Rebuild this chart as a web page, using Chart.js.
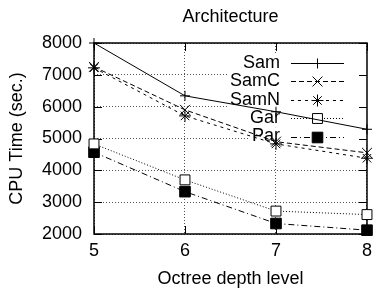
<!DOCTYPE html>
<html><head><meta charset="utf-8">
<script src="https://cdn.jsdelivr.net/npm/chart.js@4/dist/chart.umd.min.js"></script>
<style>html,body{margin:0;padding:0;background:#fff;} canvas{display:block;}</style>
</head><body>
<canvas id="c" width="378" height="293"></canvas>
<script>
const depthLevels = [5, 6, 7, 8];
const seriesNames = ['Sam', 'SamC', 'SamN', 'Gar', 'Par'];
const samTimes  = [8000, 6340, 5840, 5290];
const samCTimes = [7250, 5900, 4900, 4550];
const samNTimes = [7220, 5710, 4830, 4380];
const garTimes  = [4830, 3700, 2720, 2610];
const parTimes  = [4570, 3330, 2330, 2120];
const yTickValues = [2000, 3000, 4000, 5000, 6000, 7000, 8000];
const chartTitle = 'Architecture';
const xTitle = 'Octree depth level';
const yTitle = 'CPU Time (sec.)';

const FONT = '"Liberation Sans", Arial, Helvetica, sans-serif';
const seriesValues = [samTimes, samCTimes, samNTimes, garTimes, parTimes];
const styles = [
  {dash: [], point: 'cross', r: 5, fill: '#000'},
  {dash: [5, 3], point: 'crossRot', r: 7, fill: '#000'},
  {dash: [3, 4], point: 'star', r: 6, fill: '#000'},
  {dash: [1, 2], point: 'rect', r: 7, fill: '#fff'},
  {dash: [6, 3, 1, 3], point: 'rect', r: 7.5, fill: '#000'}
];

const datasets = seriesNames.map((name, i) => ({
  label: name,
  data: depthLevels.map((d, j) => ({x: d, y: seriesValues[i][j]})),
  borderColor: '#000',
  borderWidth: 1,
  borderDash: styles[i].dash,
  pointStyle: styles[i].point,
  pointRadius: styles[i].r,
  pointBorderColor: '#000',
  pointBorderWidth: 1,
  pointBackgroundColor: styles[i].fill,
  fill: false,
  tension: 0,
  clip: false
}));

function line(ctx, x0, y0, x1, y1) { ctx.beginPath(); ctx.moveTo(x0, y0); ctx.lineTo(x1, y1); ctx.stroke(); }

const framePlugin = {
  id: 'frame',
  beforeDatasetsDraw(chart) {
    const ctx = chart.ctx, a = chart.chartArea, x = chart.scales.x, y = chart.scales.y;
    ctx.save();
    // key
    ctx.font = '18px ' + FONT;
    ctx.textAlign = 'right';
    ctx.textBaseline = 'middle';
    const textRight = a.right - 87, s0 = a.right - 76, s1 = a.right - 23, sm = (s0 + s1) / 2;
    const rowY = i => a.top + 19.7 + i * 18.45;
    chart.data.datasets.forEach((ds, i) => {
      const w = ctx.measureText(ds.label).width;
      const lx = textRight - w - 2;
      ctx.fillStyle = '#fff';
      ctx.fillRect(lx, rowY(i) - 9.2, a.right - lx, 18.4);
    });
    chart.data.datasets.forEach((ds, i) => {
      const cy = rowY(i);
      ctx.fillStyle = '#000';
      ctx.fillText(ds.label, textRight, cy);
      ctx.strokeStyle = '#000';
      ctx.lineWidth = 1;
      ctx.setLineDash(ds.borderDash || []);
      line(ctx, s0, Math.round(cy) + 0.5, s1, Math.round(cy) + 0.5);
      ctx.setLineDash([]);
      ctx.fillStyle = ds.pointBackgroundColor;
      ctx.strokeStyle = '#000';
      Chart.helpers.drawPoint(ctx, {pointStyle: ds.pointStyle, radius: ds.pointRadius, borderWidth: 1, rotation: 0}, sm, Math.round(cy) + 0.5);
    });
    // ticks (inward, mirrored)
    ctx.strokeStyle = '#000';
    ctx.lineWidth = 1;
    yTickValues.forEach(v => {
      const py = Math.round(y.getPixelForValue(v)) + 0.5;
      line(ctx, a.left, py, a.left + 8, py);
      line(ctx, a.right - 8, py, a.right, py);
    });
    depthLevels.forEach(v => {
      const px = Math.round(x.getPixelForValue(v)) + 0.5;
      line(ctx, px, a.bottom, px, a.bottom - 8);
      line(ctx, px, a.top, px, a.top + 8);
    });
    ctx.lineWidth = 1.5;
    ctx.strokeRect(a.left, a.top, a.right - a.left, a.bottom - a.top);
    ctx.restore();
  }
};

new Chart(document.getElementById('c'), {
  type: 'line',
  data: {datasets},
  options: {
    responsive: false,
    animation: false,
    devicePixelRatio: 1,
    layout: {padding: {left: 0, right: 5, top: 0, bottom: 0}},
    plugins: {
      legend: {display: false},
      tooltip: {enabled: false},
      title: {display: true, fullSize: false, text: chartTitle, color: '#000', font: {family: FONT, size: 18, weight: 'normal'}, padding: {top: 6, bottom: 15.4}}
    },
    scales: {
      x: {
        type: 'linear', min: 5, max: 8,
        afterFit: s => { s.height = 59; },
        ticks: {stepSize: 1, color: '#000', font: {family: FONT, size: 18}, padding: 6, callback: v => String(v)},
        grid: {color: '#555', lineWidth: 1, drawTicks: false},
        border: {display: false, dash: [1, 2]},
        title: {display: true, text: xTitle, color: '#000', font: {family: FONT, size: 18}, padding: {top: 0, bottom: 3}}
      },
      y: {
        min: 2000, max: 8000,
        afterFit: s => { s.width = 94; },
        ticks: {stepSize: 1000, color: '#000', font: {family: FONT, size: 18}, padding: 12, callback: v => String(v)},
        grid: {color: '#555', lineWidth: 1, drawTicks: false},
        border: {display: false, dash: [1, 2]},
        title: {display: true, text: yTitle, color: '#000', font: {family: FONT, size: 18}, padding: {top: 6, bottom: 0}}
      }
    }
  },
  plugins: [framePlugin]
});
</script>
</body></html>
